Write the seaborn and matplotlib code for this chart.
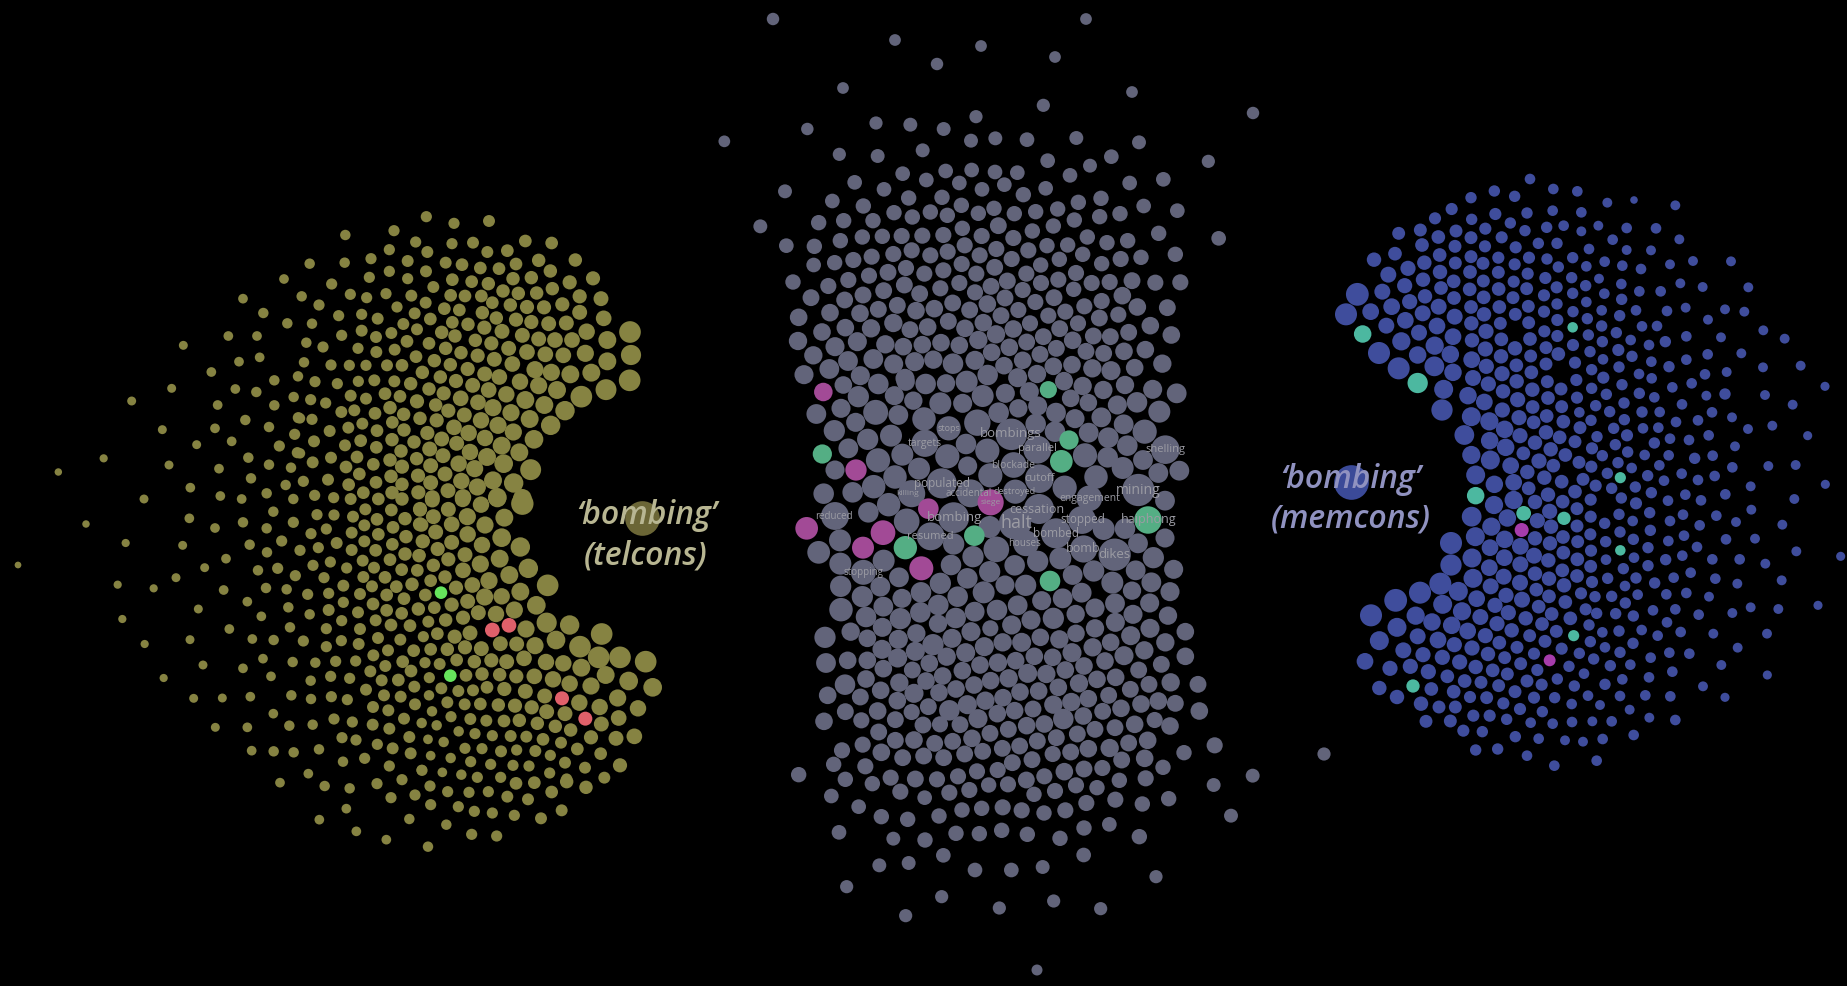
import pandas as pd
import matplotlib
matplotlib.use('Agg')
import matplotlib.pyplot as plt
import seaborn as sns

# every point is (x, y, radius), in 3x crop units
telcons_west = [(852,237,13),(729,296,13),(790,339,14),(862,370,14),(685,408,13),(771,408,13),(550,436,12),(717,485,13),(779,472,13),(634,516,13),(823,541,14),(894,529,14),(515,565,12),(706,567,13),(769,576,14),(881,591,14),(395,603,12),(653,615,13),(823,616,14),(895,653,15),(736,660,14),(487,689,12),(645,685,13),(807,681,14),(884,703,15),(590,734,12),(695,724,13),(838,738,15),(892,758,15),(311,775,11),(175,816,10),(507,795,12),(657,806,13),(745,773,14),(807,794,14),(873,803,14),(753,835,14),(857,855,14),(571,863,13),(800,880,14),(661,888,13),(725,897,13),(432,897,12),(880,897,14)]
telcons_tip = [(54,1695,9),(258,1572,10)]

telcons_north = [(379,50,15),(462,70,15),(567,63,16),(136,105,14),(282,92,15),(347,126,15),(456,131,15),(519,128,16),(676,123,17),(755,129,17),(268,149,15),(382,156,16),(562,156,16),(622,152,17),(29,191,14),(134,188,14),(213,176,15),(323,183,16),(437,188,16),(486,194,17),(648,192,17),(716,181,18),(826,180,18),(268,214,15),(378,214,16),(541,204,17),(597,206,17),(751,213,18),(208,232,15),(323,236,15),(457,239,17),(515,245,17),(565,251,18),(639,236,18),(694,233,18),(809,247,19),(879,235,19),(95,252,15),(400,261,16),(757,266,18),(5,289,14),(151,283,15),(258,281,15),(200,293,15),(334,287,16),(452,286,17),(495,288,17),(544,288,17),(609,273,18),(655,280,18),(710,279,18),(839,289,19),(903,296,20),(57,315,15),(291,321,15),(377,308,16),(433,326,17),(478,330,17),(577,308,17),(631,315,18),(681,321,19),(732,322,19),(787,313,19),(116,347,15),(185,343,15),(233,356,16),(344,340,16),(391,357,17),(547,338,18),(589,354,18),(648,359,19),(694,366,19),(746,371,20),(799,369,20),(839,337,20),(911,355,21),(36,371,14),(310,372,16),(457,367,17),(504,373,18),(553,383,19),(606,394,20),(860,395,22),(990,396,29),(125,406,15),(185,392,16),(228,411,16),(274,399,16),(351,388,16),(425,397,18),(465,408,18),(667,406,20),(716,417,20),(765,420,21),(816,420,21),(922,420,24),(19,428,14),(69,441,15),(174,445,15),(229,456,16),(284,449,16),(321,424,17),(387,430,17),(437,445,18),(526,421,18),(574,430,19),(626,445,20),(483,458,18),(681,456,21),(736,463,21),(790,466,21),(856,460,23),(993,465,27),(12,487,14),(93,495,15),(148,496,15),(198,496,15),(261,496,16),(306,496,17),(348,470,17),(403,482,18),(451,494,18),(533,467,19),(583,478,20),(637,492,21),(922,484,24),(367,517,18),(503,507,19),(705,509,23),(754,517,23),(811,523,24),(874,518,24),(45,545,15),(112,551,15),(175,544,15),(223,541,16),(283,544,16),(332,551,18),(421,531,18),(468,543,19),(554,522,20),(598,531,21),(660,545,22),(716,557,23),(989,541,29),(518,556,20),(387,567,18),(566,570,21),(771,570,24),(918,569,28),(152,587,16),(255,581,17),(300,589,17),(431,580,19),(619,583,22),(676,600,24),(844,590,29),(32,599,15),(77,609,15),(198,596,16),(351,604,19),(482,595,21),(534,607,21),(579,623,23),(733,615,24),(124,636,16),(163,631,16),(225,640,17),(270,623,18),(407,615,18),(445,632,19),(633,638,23),(795,632,26),(0,655,14),(36,658,15),(311,643,18),(360,655,18),(493,645,20),(689,657,24),(277,667,17),(410,661,19),(543,661,22),(594,676,23),(752,676,26),(187,671,16),(145,683,16),(89,693,16),(231,692,17),(312,690,18),(462,682,21),(382,699,19),(506,699,22),(640,696,23),(42,724,16),(135,736,16),(182,722,17),(276,719,18),(342,726,18),(425,717,20),(555,714,22),(470,730,20),(702,718,25),(605,737,24),(229,742,17),(303,753,18),(389,747,20),(510,756,22),(658,757,24),(429,767,20),(561,771,24),(0,760,14),(93,773,16),(171,771,17),(38,787,16),(270,780,18),(350,776,18),(220,793,17),(138,801,17),(306,800,19),(392,797,20),(476,791,22),(524,806,23),(611,791,25),(692,809,28),(178,822,17),(273,829,18),(354,827,19),(435,822,20),(84,839,16),(10,844,15),(146,854,17),(228,847,17),(306,853,18),(392,848,20),(484,843,22),(579,841,24),(641,849,26),(532,861,23),(44,886,15),(190,878,17),(276,878,18),(355,877,19),(444,872,20),(101,893,15),(152,897,16),(235,897,17),(306,897,18),(397,893,20),(489,892,22),(592,892,25),(667,895,25)]

telcons_south = [(268,55,13),(345,84,13),(429,67,14),(520,35,14),(580,67,15),(651,44,15),(702,45,15),(759,50,16),(796,28,16),(831,58,17),(874,30,17),(915,56,18),(960,27,19),(500,85,14),(633,101,15),(679,87,15),(755,98,16),(793,76,16),(835,103,17),(879,82,17),(918,110,18),(960,73,19),(449,134,14),(77,129,11),(248,136,12),(545,123,15),(710,129,16),(793,124,16),(877,133,17),(968,124,19),(501,157,14),(600,151,15),(655,143,15),(755,150,16),(827,151,17),(915,162,18),(957,167,18),(378,176,13),(314,203,12),(474,211,14),(533,205,15),(639,196,15),(691,186,15),(788,182,16),(870,179,17),(740,204,15),(822,203,16),(905,209,17),(952,211,17),(228,233,12),(586,227,15),(672,233,15),(790,231,16),(855,232,17),(936,253,18),(53,254,11),(161,265,11),(371,270,13),(498,264,14),(560,268,14),(730,257,16),(816,259,16),(889,260,17),(623,283,15),(686,280,15),(780,282,16),(860,285,17),(442,305,13),(730,307,15),(912,296,17),(295,327,12),(565,322,14),(686,330,16),(819,312,17),(955,327,18),(67,357,11),(484,349,13),(629,343,14),(774,337,16),(860,331,17),(905,340,17),(725,362,15),(827,361,16),(873,375,17),(930,377,17),(388,387,13),(570,382,14),(679,386,15),(780,387,16),(270,419,12),(457,417,13),(521,420,14),(610,423,15),(724,422,15),(834,414,16),(901,419,16),(134,432,11),(679,440,15),(776,432,16),(864,451,16),(941,452,17),(489,476,13),(309,495,12),(578,486,14),(646,488,14),(707,484,15),(767,483,15),(820,466,16),(908,485,17),(429,505,13),(856,498,16),(191,534,11),(513,529,13),(632,542,14),(692,529,15),(749,535,15),(811,514,16),(845,541,16),(895,540,17),(933,513,17),(281,595,12),(367,594,12),(451,590,13),(574,586,14),(633,597,14),(694,590,15),(742,599,15),(798,569,16),(852,586,16),(902,590,16),(943,560,16),(520,641,13),(819,621,16),(865,631,16),(945,613,16),(346,682,12),(442,682,13),(568,677,14),(638,674,14),(702,657,15),(757,666,15),(818,674,16),(868,686,16),(912,656,16),(726,713,15),(768,720,15),(928,711,16),(455,752,13),(521,754,14),(581,757,14),(657,748,14),(832,733,15),(878,745,16),(932,760,16),(729,785,14),(794,775,15),(868,798,15),(625,821,13),(540,848,13),(674,858,14),(749,865,14),(831,851,15),(906,839,15),(966,811,15),(873,893,15),(945,885,15),(739,926,13),(992,914,15),(1075,920,15),(1123,934,15),(1177,939,15),(658,959,13),(928,957,14),(1039,974,14),(769,994,13),(859,1019,13),(984,1040,14),(1115,1003,15),(1190,1008,15),(990,858,15),(1043,875,15),(1107,877,15),(1165,875,15)]

telcons_east = [(37,60,20),(128,58,21),(183,74,22),(232,55,24),(307,71,30),(85,88,20),(0,90,18),(40,110,20),(142,110,23),(253,113,24),(95,133,21),(5,135,18),(195,135,23),(47,156,20),(143,163,22),(245,173,25),(10,183,17),(95,187,20),(186,195,22),(301,201,26),(53,207,19),(135,224,20),(0,225,15),(85,238,19),(181,252,23),(239,236,24),(325,265,26),(40,256,18),(129,271,21),(268,285,24),(207,302,23),(75,291,18),(32,302,17),(157,315,21),(108,323,19),(383,316,29),(301,335,24),(16,345,17),(194,351,23),(245,349,22),(143,364,20),(95,374,19),(349,376,25),(43,383,17),(283,390,23),(175,398,20),(228,402,22),(77,420,18),(129,413,19),(380,428,27),(449,435,26),(25,425,16),(318,447,23),(104,470,19),(150,459,20),(52,461,17),(545,462,29),(408,480,25),(10,470,15),(241,491,20),(290,492,20),(345,497,23),(480,500,29),(135,502,19),(184,506,20),(32,508,17),(82,508,18),(536,532,29),(600,532,29),(677,545,29),(110,540,17),(163,545,18),(214,541,19),(260,545,20),(312,535,21),(378,546,22),(430,550,22),(484,563,24),(15,548,15),(59,552,16),(557,585,24),(626,603,25),(698,622,25),(343,589,21),(399,598,22),(449,611,22),(513,618,23),(186,582,18),(239,584,18),(289,589,19),(138,586,17),(28,593,15),(64,625,16),(115,633,16),(159,631,16),(201,622,17),(253,627,19),(316,634,20),(374,648,20),(478,668,22),(593,654,23),(27,646,14),(82,667,16),(134,673,16),(181,672,17),(235,675,18),(285,677,19),(335,682,19),(539,681,22),(654,685,22),(36,694,14),(380,695,20),(435,701,20),(596,714,21),(93,710,15),(151,717,16),(199,722,16),(252,723,17),(298,721,18),(352,730,18),(544,732,20),(5,729,14),(50,736,14),(406,739,18),(452,750,18),(116,754,14),(165,761,15),(217,767,15),(272,768,16),(319,770,16),(369,778,17),(513,772,19),(588,775,20),(643,769,21),(24,778,13),(71,786,14),(423,788,16),(135,805,15),(186,806,15),(243,814,16),(290,810,15),(346,813,16),(472,807,17),(391,826,15),(542,821,17),(32,827,13),(92,834,14),(152,845,15),(212,853,15),(279,856,15),(327,858,15),(435,848,16),(495,863,16),(600,856,19),(5,870,14),(67,877,13),(124,884,14),(172,892,15),(242,892,15),(389,879,15),(440,897,15),(553,893,16)]
telcons_tail = [(78,40,17),(133,38,17),(230,35,18),(288,52,18),(52,80,16),(114,88,16),(185,66,17),(73,136,15),(153,145,16),(215,121,16)]
telcons_red = [(217,450,21),(267,436,21),(426,655,20),(496,716,20)]
telcons_green = [(63,338,18),(91,587,18)]
telcons_term = [(665,115,52)]

shared_top = [(2319,57,17),(2685,120,16),(2943,138,16),(3258,57,16),(2811,192,17),(3165,171,16),(2529,264,16),(3396,276,16),(3759,339,17),(3972,2262,18),(3111,2910,15)]

shared_north = [(970,16,18),(262,87,17),(768,50,18),(468,69,18),(571,74,19),(671,87,19),(13,124,16),(753,122,19),(826,115,19),(921,119,20),(1069,114,19),(1257,127,19),(358,163,18),(473,168,19),(608,151,19),(1174,170,20),(983,182,20),(1465,184,18),(1110,197,19),(548,221,20),(677,213,20),(755,210,20),(825,216,20),(892,218,20),(619,240,20),(1050,226,20),(404,247,20),(195,274,19),(718,249,20),(853,254,20),(1229,249,20),(1330,238,20),(492,268,20),(786,268,20),(977,265,20),(910,284,21),(566,294,21),(666,292,21),(337,303,20),(1143,295,21),(1075,307,21),(430,318,21),(724,316,21),(822,325,21),(1013,327,21),(1271,318,20),(1372,332,20),(522,338,21),(631,336,21),(577,351,21),(682,346,21),(775,340,21),(883,341,21),(947,335,21),(1139,350,21),(1200,341,21),(296,368,21),(371,362,21),(459,362,21),(121,379,19),(835,377,23),(1063,360,21),(1000,378,21),(727,385,21),(937,393,21),(1316,400,21),(1496,415,20),(427,411,21),(487,409,21),(545,408,22),(607,407,22),(670,405,22),(785,408,22),(880,414,22),(1102,411,21),(361,422,21),(1223,422,21),(1161,428,21),(199,437,20),(283,439,21),(734,436,22),(981,437,21),(1043,435,21),(829,447,22),(455,470,22),(520,462,22),(575,451,22),(631,466,22),(683,455,22),(779,466,22),(925,451,22),(1088,463,21),(1366,463,21),(1263,472,21),(281,495,20),(344,488,21),(400,480,22),(875,477,22),(725,492,22),(1018,478,21),(1202,477,22),(962,495,21),(1145,491,21),(504,517,23),(558,504,22),(613,521,22),(670,511,22),(769,521,22),(824,502,23),(919,521,22),(1068,519,22),(219,546,21),(447,527,22),(385,540,22),(325,558,22),(553,555,23),(718,549,22),(862,543,23),(963,549,22),(1015,539,22),(1115,549,22),(1169,546,22),(1236,542,23),(1306,548,22),(1381,547,22),(661,565,22),(491,572,23),(813,559,23),(908,570,22),(1061,568,21),(273,593,23),(374,600,23),(429,585,23),(599,581,23),(765,577,22),(855,594,23),(1002,593,23),(1145,603,22),(1207,587,24),(532,616,23),(475,628,23),(698,609,23),(802,612,24),(946,606,22),(1093,619,22),(1252,621,24),(1342,623,23),(236,652,24),(330,638,24),(420,640,24),(588,632,24),(643,626,24),(749,630,23),(895,630,22),(1036,635,22),(1195,644,22),(1138,654,23),(843,647,23),(985,647,22),(520,669,25),(685,664,23),(790,668,24),(930,670,22),(1074,670,22),(1291,677,24),(306,696,24),(376,683,24),(453,685,25),(570,689,23),(623,681,24),(735,685,24),(880,687,24),(1019,686,23),(1226,697,23),(1354,705,24),(234,723,25),(412,725,26),(828,703,25),(970,710,23),(1058,721,24),(1120,708,23),(1171,710,23),(345,740,26),(496,733,25),(550,740,24),(607,734,24),(663,728,24),(718,736,24),(775,720,25),(868,742,24),(920,726,23),(1009,745,23),(280,766,25),(960,763,23),(815,757,24),(1098,754,23),(1151,760,23),(1212,754,24),(1276,749,24),(384,783,27),(460,777,27),(521,792,26),(584,785,26),(640,779,25),(699,791,28),(765,781,26),(908,781,24),(852,797,24),(1000,799,24),(1056,794,24),(1327,791,25),(1244,803,24),(1117,805,25),(1173,812,26),(328,807,27),(252,824,26),(421,827,26),(951,822,25),(555,835,26),(803,825,28),(893,833,26),(1032,842,24)]

shared_centre = [(250,15,24),(295,50,29),(355,12,28),(403,47,26),(460,62,25),(437,5,25),(497,12,28),(558,10,25),(620,5,30),(541,70,30),(608,70,26),(668,48,30),(736,40,26),(808,35,26),(912,5,24),(968,18,25),(932,55,24),(985,68,24),(1030,30,25),(1095,15,25),(1072,75,26),(1131,67,28),(1178,28,26),(1250,40,27),(1198,95,30),(243,85,26),(169,102,27),(347,97,34),(415,105,27),(492,117,32),(716,98,28),(775,85,25),(833,78,26),(888,98,27),(945,116,26),(1024,112,27),(287,127,26),(223,152,29),(566,145,33),(652,128,36),(754,163,43),(827,132,28),(885,155,28),(986,158,27),(1091,133,27),(1154,155,33),(1045,173,28),(323,178,29),(393,167,30),(495,190,37),(618,192,28),(682,212,33),(265,205,27),(1102,197,28),(1216,209,39),(354,241,33),(427,224,30),(562,229,33),(832,209,38),(975,226,33),(1043,232,28),(1149,240,27),(1195,279,27),(1258,272,27),(225,270,26),(477,266,30),(623,258,26),(761,255,35),(1088,264,30),(405,291,32),(545,310,41),(691,286,33),(838,296,39),(1008,291,32),(1135,330,44),(914,323,33),(278,337,28),(341,320,32),(191,341,28),(455,341,37),(632,340,38),(766,335,33),(988,355,35),(1215,362,27),(386,374,32),(325,397,28),(837,387,41),(581,413,42),(225,408,38),(440,424,35),(966,420,38),(689,441,30),(765,430,44),(888,460,41),(1031,447,30),(1095,446,28),(512,469,38),(240,481,30),(176,517,31),(371,542,30),(581,492,29),(709,508,35),(798,490,35),(971,507,37),(1064,524,44),(1134,490,27),(1215,474,26),(639,530,29),(241,551,30),(310,577,34),(573,555,28),(764,556,28),(833,544,29),(901,535,30),(1180,533,29),(1001,573,29),(1127,571,27),(1241,568,26),(417,592,27),(622,595,28),(689,575,29),(938,585,27),(242,619,29),(361,620,27),(541,610,29),(735,615,26),(797,616,29),(1057,608,30),(1174,607,27),(307,650,29),(483,637,28),(593,650,28),(671,637,30),(426,655,26),(1230,635,26),(965,638,27),(1116,632,25),(845,662,26),(908,655,27),(535,675,28),(370,680,27),(243,689,32),(644,695,27),(711,690,28),(773,676,27),(1005,684,26),(1065,670,27),(1169,669,26),(318,711,28),(421,716,29),(481,697,28),(587,714,28),(880,715,29),(947,702,25),(1119,703,26),(1224,707,25),(367,742,26),(534,731,25),(755,735,26),(813,720,26),(691,745,22),(1005,745,25),(1066,727,26),(1170,745,26)]
shared_pink = [(190,36,27),(288,270,31),(140,445,33),(369,458,36),(309,503,32),(505,386,30),(692,367,38),(484,565,35)]
shared_green = [(865,29,25),(187,222,28),(927,180,28),(904,244,33),(1164,420,40),(643,467,30),(436,503,34),(870,603,30)]

shared_south = [(135,22,29),(262,25,24),(355,28,26),(409,10,25),(516,25,26),(573,5,26),(1216,5,24),(725,37,26),(781,22,24),(838,28,25),(888,10,24),(1052,17,26),(1156,37,25),(212,5,25),(306,58,26),(459,44,29),(557,68,26),(613,50,26),(668,37,25),(992,37,24),(938,52,25),(138,99,27),(203,91,24),(262,91,24),(353,84,26),(406,64,26),(500,80,25),(763,79,24),(818,82,24),(876,68,26),(975,93,24),(1032,77,26),(1093,61,25),(1216,79,24),(310,116,24),(397,120,23),(448,100,24),(547,122,24),(600,105,24),(654,98,25),(707,92,24),(856,120,24),(912,108,24),(1144,103,23),(1076,120,23),(258,147,24),(195,164,28),(358,158,25),(438,153,24),(488,138,24),(582,165,24),(632,152,24),(686,145,25),(743,130,26),(799,132,25),(897,160,25),(951,148,24),(1007,142,24),(1107,163,23),(1172,157,25),(1254,163,23),(143,196,24),(302,181,24),(241,201,23),(402,190,26),(477,188,24),(528,177,24),(720,186,24),(776,183,24),(835,172,24),(1051,178,23),(352,212,24),(445,230,23),(562,224,26),(616,212,25),(669,203,24),(820,224,25),(874,216,25),(925,206,24),(986,196,23),(1083,222,24),(1135,213,24),(1186,220,23),(196,245,23),(293,243,24),(395,246,22),(508,241,28),(652,251,24),(704,242,24),(759,237,23),(968,244,23),(1023,235,24),(1258,243,24),(132,274,24),(244,271,22),(346,269,23),(429,285,23),(480,283,22),(540,284,23),(594,266,26),(740,287,24),(793,282,24),(850,267,28),(910,258,24),(1064,283,24),(1124,270,22),(1170,288,24),(296,306,23),(630,310,23),(685,298,23),(945,298,23),(1005,293,23),(892,312,23),(346,331,23),(402,330,24),(464,340,23),(518,334,23),(576,325,24),(772,333,23),(829,323,23),(1046,339,23),(1103,331,24),(1304,346,22),(186,361,22),(248,344,22),(304,367,24),(554,372,23),(608,364,23),(667,355,23),(719,348,23),(872,366,23),(925,356,24),(989,354,25),(1212,368,21),(161,403,21),(368,383,23),(431,378,23),(491,383,23),(697,398,23),(756,389,23),(818,372,22),(1025,390,23),(1094,385,24),(256,409,22),(591,424,22),(653,420,22),(853,425,24),(912,417,23),(967,414,22),(1149,412,21),(56,434,21),(1418,437,19),(196,448,21),(332,443,22),(406,447,23),(471,448,22),(534,439,22),(739,450,23),(793,439,22),(1018,451,21),(1097,445,22),(277,461,21),(626,465,21),(684,463,22),(888,466,22),(951,473,21),(1301,465,19),(361,485,22),(154,498,20),(434,503,20),(508,488,22),(568,480,22),(825,483,22),(762,493,21),(1166,506,21),(1006,509,22),(236,530,20),(546,540,21),(605,535,21),(668,532,22),(725,541,22),(792,549,21),(856,541,22),(919,519,22),(1087,522,21),(304,560,21),(383,568,21),(477,558,21),(1353,557,19),(177,607,20),(528,610,21),(598,611,21),(665,601,21),(742,613,21),(840,625,21),(912,594,21),(988,583,20),(340,626,19),(435,630,21),(1078,620,21),(490,676,20),(911,675,20),(298,706,19),(386,699,19),(585,720,20),(694,720,20),(788,711,19),(1128,740,18),(200,770,18),(485,800,18),(821,813,18),(658,834,18),(962,836,18),(377,857,18)]

memcons_north = [(690,27,14),(583,63,15),(760,57,14),(832,64,14),(513,83,15),(644,79,15),(455,117,16),(586,132,16),(681,129,15),(758,122,14),(844,127,14),(405,145,16),(515,148,15),(631,159,15),(791,167,14),(895,167,13),(296,190,17),(361,180,17),(468,183,17),(556,176,16),(675,182,15),(740,172,15),(844,184,13),(415,201,18),(513,203,17),(605,202,16),(715,220,15),(771,220,15),(867,237,14),(222,269,19),(285,251,18),(366,225,18),(465,229,17),(555,229,16),(647,232,16),(818,263,15),(419,255,18),(513,260,17),(595,263,16),(687,263,16),(741,267,15),(859,289,14),(373,278,19),(466,279,17),(549,280,17),(644,283,16),(775,291,15),(897,326,13),(324,295,20),(265,314,21),(420,306,19),(510,306,18),(595,307,17),(683,311,16),(736,324,16),(815,323,15),(857,347,15),(369,329,19),(461,334,18),(550,333,17),(641,335,16),(770,352,16),(314,347,20),(423,354,18),(509,358,18),(596,357,18),(680,356,17),(732,376,16),(818,370,15),(859,396,14),(172,373,30),(247,365,21),(375,379,19),(462,384,18),(551,382,18),(639,383,17),(771,402,15),(329,395,20),(416,410,21),(513,411,18),(598,411,18),(685,409,17),(732,425,16),(819,425,15),(862,446,15),(138,433,29),(212,425,22),(275,410,22),(368,430,21),(464,440,21),(552,433,19),(646,433,17),(772,450,16),(259,467,21),(316,451,22),(514,460,19),(601,460,17),(686,458,17),(733,484,16),(865,495,15),(411,468,22),(357,488,21),(558,484,20),(772,498,16),(819,525,16),(870,545,15),(304,514,24),(459,500,22),(516,511,19),(604,508,18),(690,507,18),(738,533,17),(825,578,16),(875,599,15),(237,549,29),(404,527,24),(353,555,23),(451,553,23),(556,537,20),(645,535,19),(692,558,17),(775,552,18),(515,569,22),(603,559,19),(738,582,17),(296,595,29),(403,589,26),(559,589,20),(649,586,18),(829,630,16),(875,655,15),(459,607,23),(519,624,21),(606,611,20),(694,607,18),(742,635,17),(783,657,17),(887,707,15),(431,658,25),(565,642,20),(650,634,19),(609,664,19),(697,659,19),(831,683,16),(838,727,14),(504,677,23),(653,689,20),(553,696,22),(744,684,18),(785,710,17),(873,751,15),(426,720,28),(607,720,20),(698,711,18),(514,740,25),(657,743,20),(740,738,18),(790,755,18),(840,773,17),(891,800,15),(568,754,24),(701,757,18),(493,795,26),(614,778,23),(660,797,20),(738,787,19),(779,802,18),(825,815,17),(876,835,16),(569,812,23),(705,818,19),(617,832,23),(752,838,19)]
memcons_teal_n = [(188,492,25),(353,639,29),(818,472,15)]

memcons_south = [(514,15,24),(571,30,25),(632,47,22),(670,10,18),(717,33,20),(760,47,18),(796,15,18),(837,37,17),(874,50,16),(527,75,25),(583,103,23),(641,97,22),(682,66,19),(733,83,19),(785,95,18),(849,88,17),(887,107,16),(686,115,18),(744,134,19),(825,125,18),(872,149,16),(582,165,24),(641,150,24),(705,156,19),(788,155,18),(831,176,17),(749,184,20),(622,204,23),(515,200,26),(712,212,20),(574,230,24),(753,230,19),(831,228,17),(872,200,16),(453,279,29),(526,260,25),(614,268,23),(705,265,19),(789,261,18),(871,253,16),(661,289,22),(750,280,19),(833,275,17),(570,293,22),(516,324,25),(702,317,21),(613,323,22),(790,308,18),(873,302,16),(745,331,19),(832,328,18),(453,345,28),(568,353,22),(661,343,21),(787,361,18),(872,349,17),(611,380,21),(519,385,25),(705,371,19),(747,386,19),(831,378,18),(876,396,16),(421,401,29),(660,398,21),(572,409,21),(792,406,19),(709,419,18),(843,430,16),(885,440,15),(360,428,29),(475,424,25),(618,436,20),(530,446,22),(747,439,18),(796,456,18),(287,451,30),(428,463,25),(666,449,21),(585,466,20),(716,470,18),(857,478,16),(890,490,15),(486,484,24),(625,488,20),(755,492,18),(213,496,29),(347,497,24),(541,501,21),(677,505,19),(811,505,18),(396,516,23),(291,532,25),(591,521,20),(455,526,23),(726,522,18),(867,525,15),(503,543,22),(635,541,19),(353,559,21),(556,557,20),(769,544,17),(689,557,17),(238,572,25),(414,570,22),(463,584,20),(598,578,18),(735,574,17),(871,575,15),(310,601,21),(516,594,20),(651,592,17),(785,596,16),(838,610,15),(369,614,20),(195,634,22),(427,622,20),(564,612,19),(702,611,16),(881,627,15),(479,636,20),(270,655,20),(331,649,20),(614,623,17),(662,641,17),(807,649,15),(527,651,19),(578,661,18),(385,665,20),(712,660,16),(852,671,14),(442,679,18),(622,672,17),(772,687,15),(494,693,18),(543,697,17),(681,693,17),(238,714,19),(394,717,18),(596,707,17),(725,704,16),(823,708,15),(461,725,18),(645,725,17),(291,741,19),(510,741,16),(560,743,17),(702,743,16),(764,743,15),(864,737,14),(363,761,19),(610,760,16),(417,771,17),(466,771,17),(660,777,16),(815,762,14),(727,785,15),(900,765,13),(378,814,17),(451,813,17),(520,797,16),(569,797,16),(620,808,15),(692,818,14),(758,821,14),(816,816,14),(877,814,13),(490,842,16),(547,845,15),(646,860,15),(716,866,14),(795,871,13),(849,875,13),(527,900,15),(593,897,15),(681,917,14),(763,947,14),(890,932,14)]
memcons_teal_s = [(527,137,25),(671,190,21),(792,205,19),(821,557,16),(339,708,19)]
memcons_purple = [(665,240,20),(749,631,17)]
memcons_term = [(153,97,52)]

memcons_east = [(142,8,13),(346,16,13),(222,0,10),(200,84,14),(288,85,14),(158,119,14),(358,118,13),(200,150,13),(273,151,13),(134,185,14),(330,193,13),(399,183,13),(513,184,13),(187,197,14),(243,207,14),(184,252,14),(361,250,13),(428,261,13),(565,262,13),(238,274,14),(302,274,14),(133,281,14),(185,298,15),(377,323,13),(495,328,13),(553,335,13),(228,331,14),(321,333,14),(125,331,14),(179,347,15),(444,359,13),(246,379,14),(291,378,14),(610,391,13),(674,416,13),(125,378,15),(169,398,15),(379,409,14),(483,412,13),(212,420,14),(316,425,15),(127,425,15),(267,435,14),(175,450,16),(443,463,14),(544,460,13),(216,469,15),(129,478,14),(379,479,14),(274,485,14),(722,497,13),(327,500,15),(609,502,13),(177,501,15),(500,516,13),(237,522,14),(435,523,14),(130,533,16),(275,535,14),(395,550,14),(337,562,14),(186,554,15),(795,559,12),(615,585,13),(238,580,15),(139,583,15),(439,587,13),(495,582,15),(283,592,14),(192,609,15),(366,613,14),(698,614,13),(149,635,15),(246,636,15),(299,636,14),(456,637,14),(516,652,13),(193,659,15),(348,666,14),(414,661,14),(637,677,13),(564,687,13),(161,685,15),(249,685,14),(295,683,14),(201,706,16),(446,706,14),(743,707,12),(330,716,14),(387,720,14),(283,729,15),(166,734,15),(525,739,13),(127,767,15),(203,756,15),(254,765,14),(326,766,14),(404,775,15),(458,767,14),(174,788,15),(517,802,14),(625,798,13),(707,795,13),(298,796,14),(215,804,14),(142,820,15),(263,827,15),(365,821,14),(464,828,14),(155,865,15),(312,842,14),(414,840,14),(572,859,13),(796,853,12),(226,861,15),(274,878,15),(376,884,14),(496,883,14),(184,894,15),(703,897,13),(228,910,16),(324,902,14),(423,901,14),(574,929,13),(469,947,14),(177,943,15),(269,938,15),(369,944,14),(218,963,14),(330,963,14),(528,966,13),(667,974,13),(134,970,15),(419,976,14),(271,991,15),(180,996,15),(372,1007,14),(498,1018,14),(585,1016,13),(137,1025,15),(220,1018,15),(325,1023,14),(264,1043,15),(411,1041,14),(709,1054,13),(842,1069,12),(222,1073,14),(138,1079,14),(367,1067,14),(317,1079,15),(457,1078,14),(539,1078,14),(264,1097,15),(190,1106,15),(616,1091,13),(392,1118,14),(228,1134,15),(143,1135,15),(341,1133,14),(466,1136,14),(665,1141,13),(532,1151,13),(284,1149,15),(195,1158,14),(155,1189,15),(233,1184,14),(319,1183,14),(379,1179,14),(447,1190,13),(196,1209,15),(572,1222,13),(655,1227,13),(774,1216,12),(279,1231,14),(346,1228,14),(167,1241,15),(220,1248,15),(416,1244,14),(517,1239,13),(321,1267,14),(245,1290,14),(177,1293,15),(127,1297,14),(362,1296,14),(293,1307,14),(460,1301,13),(621,1301,13),(219,1330,15),(135,1342,14),(533,1343,13),(180,1357,15),(328,1358,14),(272,1373,14),(388,1361,14),(211,1394,14),(151,1397,15),(484,1395,13),(337,1415,14),(622,1425,12),(267,1432,14),(187,1438,14),(135,1453,15),(429,1459,13),(256,1486,14),(180,1488,14),(331,1489,14),(495,1492,12)]
memcons_teal_e = [(181,833,16),(181,1051,15)]
memcons_tail = [(119,89,13),(178,113,13),(256,120,14),(65,124,14),(131,165,14),(38,177,14)]

# words that are big enough to read in the middle cloud: word, x, y, size
shared_words = ['bombings', 'halt', 'parallel', 'shelling', 'targets', 'blockade', 'cutoff', 'populated', 'accidental', 'destroyed', 'mining', 'engagement', 'cessation', 'bombing', 'haiphong', 'stopped', 'bombed', 'resumed', 'reduced', 'bomb', 'dikes', 'houses', 'stopping', 'stops', 'killing', 'siege']
shared_word_x = [752, 768, 833, 1216, 495, 760, 840, 545, 625, 765, 1135, 988, 830, 583, 1165, 968, 888, 510, 222, 970, 1064, 795, 309, 566, 443, 692]
shared_word_y = [160, 430, 205, 209, 190, 255, 296, 312, 342, 335, 330, 355, 388, 413, 420, 420, 460, 470, 410, 507, 524, 490, 577, 145, 341, 367]
shared_word_pt = [9.5, 13, 8, 8, 7.5, 7.5, 8, 8.5, 7, 6.5, 10, 7.5, 9, 9.5, 9, 8.5, 8.5, 8, 7, 9, 9.5, 7, 7, 6.5, 6, 6]


def crop(points, left, top):
    df = pd.DataFrame(points, columns=['x', 'y', 'r'])
    df['x'] = left + df['x'] / 3
    df['y'] = top + df['y'] / 3
    return df


def bubbles(ax, frames, colour, grow=1.0):
    df = pd.concat(frames)
    # area in points^2 from a radius in crop units, 100 dpi
    area = (2 * grow * df['r'] / 3 * 0.72) ** 2
    sns.scatterplot(data=df, x='x', y='y', s=area, color=colour, linewidth=0, legend=False, ax=ax)


sns.set_theme(style='dark')
plt.rcParams['font.family'] = ['Open Sans', 'DejaVu Sans']

fig = plt.figure(figsize=(18.47, 9.86), dpi=100, facecolor='black')
ax = fig.add_axes([0, 0, 1, 1])
ax.set_facecolor('black')

bubbles(ax, [crop(telcons_term, 420, 480)], '#6b6636')
bubbles(ax, [crop(memcons_term, 1300, 450)], '#3b4a98')

bubbles(ax, [crop(telcons_west, 0, 200), crop(telcons_tip, 0, 0), crop(telcons_north, 300, 200),
             crop(telcons_south, 100, 500), crop(telcons_east, 420, 480), crop(telcons_tail, 490, 770)], '#868342', grow=1.12)
bubbles(ax, [crop(telcons_red, 420, 480)], '#e0606a', grow=1.05)
bubbles(ax, [crop(telcons_green, 420, 480)], '#66e45c', grow=1.05)

bubbles(ax, [crop(shared_top, 0, 0), crop(shared_north, 720, 100), crop(shared_centre, 760, 380),
             crop(shared_south, 780, 630)], '#62647a', grow=1.1)
bubbles(ax, [crop(shared_pink, 760, 380)], '#a24a96', grow=1.03)
bubbles(ax, [crop(shared_green, 760, 380)], '#54ae84', grow=1.03)

bubbles(ax, [crop(memcons_north, 1300, 170), crop(memcons_south, 1300, 450), crop(memcons_east, 1560, 200),
             crop(memcons_tail, 1590, 680)], '#3f4d9c', grow=1.14)
bubbles(ax, [crop(memcons_teal_n, 1300, 170), crop(memcons_teal_s, 1300, 450), crop(memcons_teal_e, 1560, 200)], '#4cb8a0', grow=1.05)
bubbles(ax, [crop(memcons_purple, 1300, 450)], '#a63cab', grow=1.05)

for word, x, y, pt in zip(shared_words, shared_word_x, shared_word_y, shared_word_pt):
    ax.text(760 + x / 3, 380 + y / 3, word, fontsize=pt, color='#9c9ca4', ha='center', va='center')

ax.text(647, 515, '\u2018bombing\u2019', fontsize=23, style='italic', weight='semibold', color='#b8b692', ha='center', va='center')
ax.text(646, 556, '(telcons)', fontsize=23, style='italic', weight='semibold', color='#b8b692', ha='center', va='center')
ax.text(1351, 479, '\u2018bombing\u2019', fontsize=23, style='italic', weight='semibold', color='#9092c0', ha='center', va='center')
ax.text(1351, 519, '(memcons)', fontsize=23, style='italic', weight='semibold', color='#9092c0', ha='center', va='center')

ax.set_xlim(0, 1847)
ax.set_ylim(986, 0)
ax.axis('off')
fig.savefig('out.png', dpi=100, facecolor='black')
